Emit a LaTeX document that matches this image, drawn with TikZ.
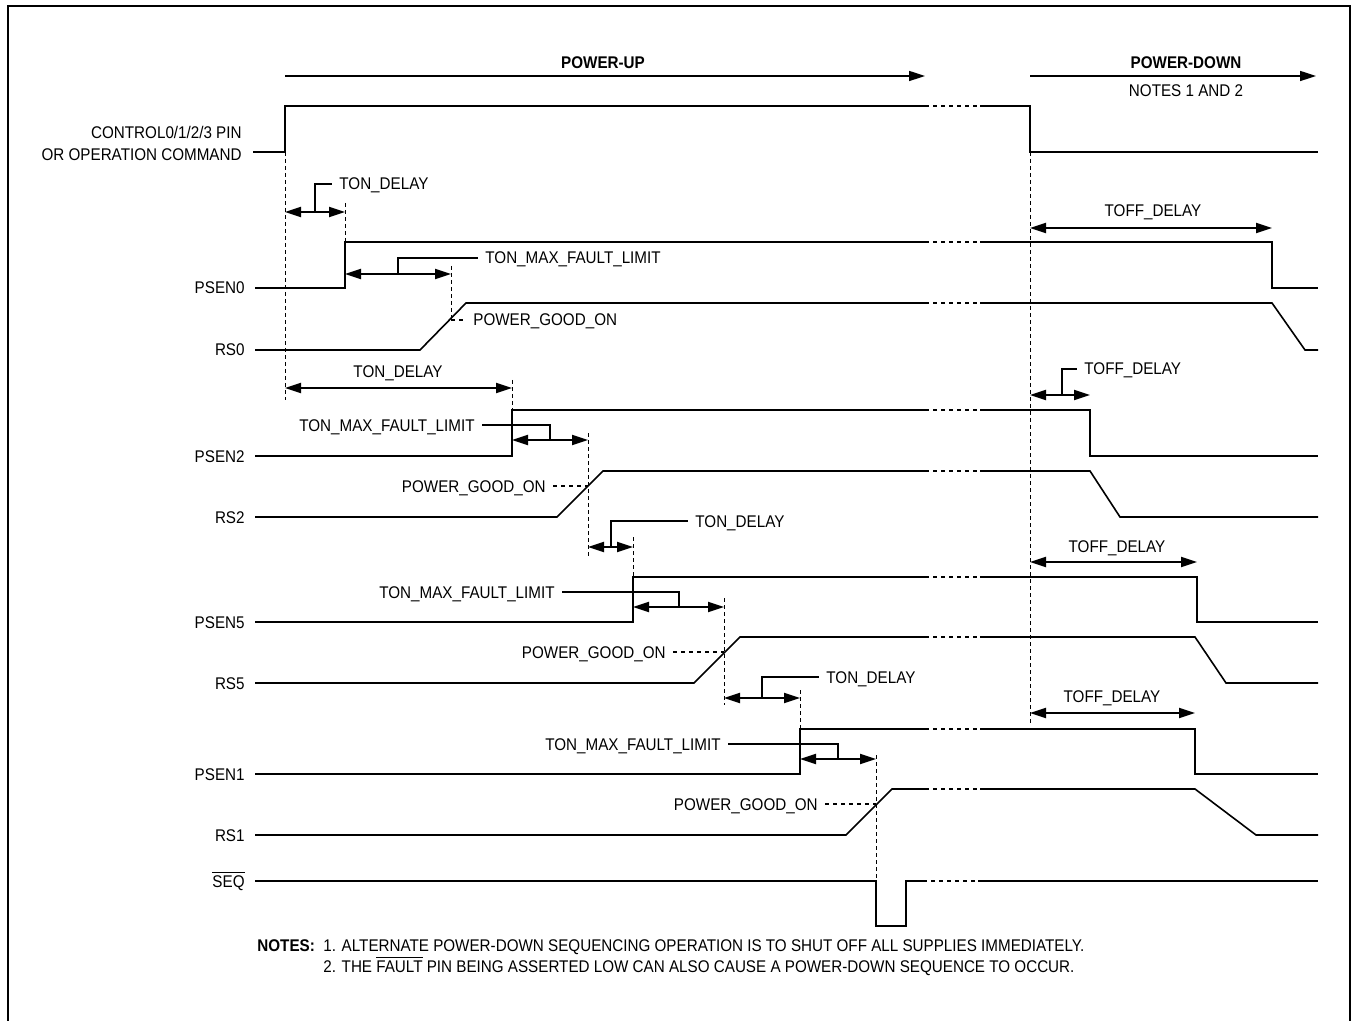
\documentclass[tikz,border=0pt]{standalone}
\usepackage{fontspec}
\setmainfont{Liberation Sans}[FakeStretch=0.9]
\usetikzlibrary{arrows.meta}

\newcommand\sigfont{\fontsize{8.45pt}{10.5pt}\selectfont}

\tikzstyle{border}=[black, line width=1.2pt]
\tikzstyle{sig}=[black, line width=0.8pt, line join=miter]
\tikzstyle{gap}=[black, line width=0.8pt, dash pattern=on 2pt off 2pt]
\tikzstyle{guide}=[black, line width=0.5pt, dash pattern=on 2pt off 1.5pt]
\tikzstyle{dim}=[black, line width=0.9pt, {Triangle[length=8pt,width=5pt]}-{Triangle[length=8pt,width=5pt]}]
\tikzstyle{phase}=[black, line width=0.8pt, -{Triangle[length=8pt,width=5pt]}]
\tikzstyle{lead}=[black, line width=0.6pt]
\tikzstyle{pgl}=[black, line width=0.6pt, dash pattern=on 2pt off 2pt]
\tikzstyle{lbl}=[inner xsep=3.5pt, inner ysep=1pt, text height=6pt, text depth=0pt]

\begin{document}
\begin{tikzpicture}[x=0.5pt, y=-0.5pt, every node/.style={font=\sigfont}]
	
	\useasboundingbox (0,0) rectangle (1354,1021);
	
	\def\ga{925}  % time break starts
	\def\gb{980}  % time break ends
	\def\xe{1318} % right end of the traces
	
	\draw[border] (8,6) rectangle (1350,1040);
	
	% Phases
	\draw[phase] (285,76) -- (\gb-55,76);
	\node[lbl, font=\sigfont\bfseries] (pup) at (603,63) {POWER-UP};
	\draw[phase] (1030,76) -- (1316,76);
	\node[lbl, font=\sigfont\bfseries] (pdown) at (1186,63) {POWER-DOWN};
	\node[lbl] (pnotes) at (1186,91) {NOTES 1 AND 2};
	
	% Signal names
	\node[lbl, anchor=east] (ctl1) at (249,133) {CONTROL0/1/2/3 PIN};
	\node[lbl, anchor=east] (ctl2) at (249,155) {OR OPERATION COMMAND};
	\foreach \n/\y in {PSEN0/288, RS0/350, PSEN2/456, RS2/517, PSEN5/622, RS5/683, PSEN1/774, RS1/835}
		\node[lbl, anchor=east] (\n) at (252,\y) {\n};
	\node[lbl, anchor=east] (SEQ) at (252,881) {$\overline{\mbox{SEQ}}$};
	
	% Dashed guides
	\foreach \x/\ya/\yb in {285/152/400, 345/203/242, 451/266/320, 512/380/410, 588/433/557, 633/537/577, 724/598/705, 800/690/729, 876/755/881, 1030/152/723}
		\draw[guide] (\x,\ya) -- (\x,\yb);
	
	% Traces up to the time break
	\draw[sig] (253,152) -- (285,152) -- (285,106) -- (\ga,106);
	\draw[sig] (255,288) -- (345,288) -- (345,242) -- (\ga,242);
	\draw[sig] (255,350) -- (420,350) -- (466,303) -- (\ga,303);
	\draw[sig] (255,456) -- (512,456) -- (512,410) -- (\ga,410);
	\draw[sig] (255,517) -- (557,517) -- (603,471) -- (\ga,471);
	\draw[sig] (255,622) -- (633,622) -- (633,577) -- (\ga,577);
	\draw[sig] (255,683) -- (694,683) -- (740,637) -- (\ga,637);
	\draw[sig] (255,774) -- (800,774) -- (800,729) -- (\ga,729);
	\draw[sig] (255,835) -- (846,835) -- (892,789) -- (\ga,789);
	\draw[sig] (255,881) -- (876,881) -- (876,926) -- (906,926) -- (906,881) -- (923,881);
	
	% Time break
	\foreach \y in {106,242,303,410,471,577,637,729,789}
		\draw[gap] (\ga,\y) -- (\gb,\y);
	\draw[gap] (923,881) -- (\gb-2,881);
	
	% Traces after the time break
	\draw[sig] (\gb,106) -- (1030,106) -- (1030,152) -- (\xe,152);
	\draw[sig] (\gb,242) -- (1272,242) -- (1272,288) -- (\xe,288);
	\draw[sig] (\gb,303) -- (1272,303) -- (1305,350) -- (\xe,350);
	\draw[sig] (\gb,410) -- (1090,410) -- (1090,456) -- (\xe,456);
	\draw[sig] (\gb,471) -- (1090,471) -- (1120,517) -- (\xe,517);
	\draw[sig] (\gb,577) -- (1197,577) -- (1197,622) -- (\xe,622);
	\draw[sig] (\gb,637) -- (1195,637) -- (1226,683) -- (\xe,683);
	\draw[sig] (\gb,729) -- (1195,729) -- (1195,774) -- (\xe,774);
	\draw[sig] (\gb,789) -- (1195,789) -- (1256,835) -- (\xe,835);
	\draw[sig] (\gb-2,881) -- (\xe,881);
	
	% PSEN0 / RS0
	\draw[dim] (285,212) -- (345,212);
	\node[lbl, anchor=west] (ton0) at (332,184) {TON\_DELAY};
	\draw[lead] (315,212) |- (ton0.west);
	\draw[dim] (345,274) -- (451,274);
	\node[lbl, anchor=west] (tmf0) at (478,258) {TON\_MAX\_FAULT\_LIMIT};
	\draw[lead] (398,274) |- (tmf0.west);
	\node[lbl, anchor=west] (pg0) at (466,320) {POWER\_GOOD\_ON};
	\draw[pgl] (451,320) -- (pg0.west);
	
	% PSEN2 / RS2
	\draw[dim] (285,388) -- (512,388);
	\node[lbl] (ton2) at (398,372) {TON\_DELAY};
	\draw[dim] (512,440) -- (588,440);
	\node[lbl, anchor=east] (tmf2) at (482,425) {TON\_MAX\_FAULT\_LIMIT};
	\draw[lead] (tmf2.east) -| (550,440);
	\node[lbl, anchor=east] (pg2) at (553,486) {POWER\_GOOD\_ON};
	\draw[pgl] (pg2.east) -- (588,486);
	
	% PSEN5 / RS5
	\draw[dim] (588,547) -- (633,547);
	\node[lbl, anchor=west] (ton5) at (688,521) {TON\_DELAY};
	\draw[lead] (611,547) |- (ton5.west);
	\draw[dim] (633,607) -- (724,607);
	\node[lbl, anchor=east] (tmf5) at (562,592) {TON\_MAX\_FAULT\_LIMIT};
	\draw[lead] (tmf5.east) -| (679,607);
	\node[lbl, anchor=east] (pg5) at (673,652) {POWER\_GOOD\_ON};
	\draw[pgl] (pg5.east) -- (724,652);
	
	% PSEN1 / RS1
	\draw[dim] (724,698) -- (800,698);
	\node[lbl, anchor=west] (ton1) at (819,677) {TON\_DELAY};
	\draw[lead] (762,698) |- (ton1.west);
	\draw[dim] (800,759) -- (876,759);
	\node[lbl, anchor=east] (tmf1) at (728,744) {TON\_MAX\_FAULT\_LIMIT};
	\draw[lead] (tmf1.east) -| (838,759);
	\node[lbl, anchor=east] (pg1) at (825,804) {POWER\_GOOD\_ON};
	\draw[pgl] (pg1.east) -- (876,804);
	
	% Power-down delays
	\draw[dim] (1030,228) -- (1272,228);
	\node[lbl] (toff0) at (1153,211) {TOFF\_DELAY};
	\draw[dim] (1030,395) -- (1090,395);
	\node[lbl, anchor=west] (toff2) at (1077,369) {TOFF\_DELAY};
	\draw[lead] (1062,395) |- (toff2.west);
	\draw[dim] (1030,562) -- (1197,562);
	\node[lbl] (toff5) at (1117,546) {TOFF\_DELAY};
	\draw[dim] (1030,713) -- (1195,713);
	\node[lbl] (toff1) at (1112,696) {TOFF\_DELAY};
	
	% Notes
	\node[lbl, anchor=west, font=\sigfont\bfseries] (notes) at (250,945) {NOTES:};
	\node[lbl, anchor=west] (note1) at (316,945) {1. ALTERNATE POWER-DOWN SEQUENCING OPERATION IS TO SHUT OFF ALL SUPPLIES IMMEDIATELY.};
	\node[lbl, anchor=west] (note2) at (316,966) {2. THE $\overline{\mbox{FAULT}}$ PIN BEING ASSERTED LOW CAN ALSO CAUSE A POWER-DOWN SEQUENCE TO OCCUR.};
	
\end{tikzpicture}
\end{document}
